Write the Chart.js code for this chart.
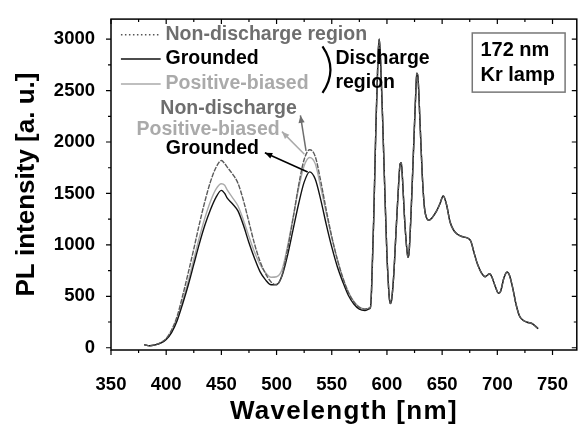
<!DOCTYPE html>
<html>
<head>
<meta charset="utf-8">
<script src="https://cdn.jsdelivr.net/npm/chart.js@4.4.0/dist/chart.umd.js"></script>
<style>
  body { margin: 0; background: #fff; }
</style>
</head>
<body>
<canvas id="chart" width="584" height="431"></canvas>
<script>
// wavelengths where the three spectra differ (nm)
const wavelengthsHead = [380, 385, 390, 395, 400, 405, 410, 415, 420, 425, 430, 435, 440, 445, 450, 453,
  455, 460, 465, 470, 475, 480, 485, 490, 495, 500, 505, 510, 515, 520, 525, 530, 535, 540, 545, 550,
  555, 560, 565, 570, 575, 580, 584];
const nonDischargeHead = [30, 20, 28, 50, 90, 175, 310, 510, 730, 960, 1200, 1420, 1610, 1750, 1820, 1790,
  1760, 1690, 1600, 1430, 1220, 1010, 840, 720, 640, 612, 710, 960, 1260, 1580, 1830, 1925, 1860, 1620, 1340, 1080,
  860, 680, 540, 445, 392, 375, 385];
const groundedHead = [30, 20, 28, 45, 80, 150, 265, 430, 610, 810, 1010, 1190, 1340, 1460, 1530, 1500,
  1460, 1400, 1330, 1190, 1020, 870, 740, 660, 612, 615, 700, 900, 1150, 1400, 1610, 1710, 1640, 1440, 1200, 980,
  790, 640, 510, 425, 375, 362, 378];
const positiveBiasedHead = [30, 20, 28, 47, 85, 160, 285, 460, 650, 860, 1070, 1260, 1420, 1540, 1595, 1580,
  1540, 1460, 1380, 1240, 1080, 930, 810, 730, 685, 690, 760, 990, 1270, 1550, 1770, 1850, 1790, 1560, 1310, 1070,
  860, 680, 545, 450, 395, 376, 385];

// above ~585 nm the three spectra overlap
const wavelengthsTail = [585, 586, 588, 590, 592, 593, 594, 596, 598, 600, 601, 602, 603, 604, 606, 608, 610,
  612, 613, 614, 616, 618, 619, 620, 622, 624, 626, 627, 628, 630, 632, 634, 636, 638, 641, 645, 648, 651, 654,
  657, 660, 663, 667, 670, 673, 676, 679, 682, 686, 689, 691, 693, 695, 698, 701, 703, 706, 709, 711, 714, 717,
  720, 723, 727, 732, 735, 737];
const sharedTail = [390, 550, 1250, 2150, 2850, 3000, 2850, 2250, 1550, 900, 680, 500, 430, 450, 680, 1080, 1480,
  1790, 1800, 1660, 1250, 960, 880, 920, 1350, 1900, 2450, 2670, 2640, 2180, 1680, 1360, 1260, 1240, 1265, 1330,
  1400, 1475, 1390, 1230, 1150, 1110, 1085, 1075, 1066, 1035, 920, 814, 720, 690, 705, 720, 690, 600, 530, 550,
  680, 736, 705, 578, 420, 311, 270, 248, 233, 205, 186];

const xTickValues = [350, 400, 450, 500, 550, 600, 650, 700, 750];
const yTickValues = [0, 500, 1000, 1500, 2000, 2500, 3000];

const FONT = "'Liberation Sans', Arial, sans-serif";

function points(head) {
  const wl = wavelengthsHead.concat(wavelengthsTail);
  const vals = head.concat(sharedTail);
  return wl.map((w, i) => ({x: w, y: vals[i]}));
}

const decorations = {
  id: 'decorations',
  beforeDraw(chart) {
    const sx = chart.scales.x;
    if (!sx._spaced) {
      const orig = sx.drawTitle.bind(sx);
      sx.drawTitle = function () {
        this.ctx.save();
        this.ctx.letterSpacing = '1.3px';
        orig();
        this.ctx.restore();
      };
      sx._spaced = true;
    }
  },
  afterDraw(chart) {
    const {ctx, chartArea: a, scales: {x, y}} = chart;
    const X = v => x.getPixelForValue(v);
    const Y = v => y.getPixelForValue(v);
    ctx.save();

    // tick marks: outward on bottom/left, inward on top/right
    ctx.strokeStyle = '#000';
    ctx.lineWidth = 1.2;
    const xMinor = xTickValues.map(v => v + 25).filter(v => v <= x.max);
    const yMinor = yTickValues.map(v => v + 250).filter(v => v <= y.max);
    ctx.beginPath();
    xTickValues.forEach(v => {
      ctx.moveTo(X(v), a.bottom); ctx.lineTo(X(v), a.bottom + 5);
      ctx.moveTo(X(v), a.top); ctx.lineTo(X(v), a.top + 5);
    });
    xMinor.forEach(v => {
      ctx.moveTo(X(v), a.bottom); ctx.lineTo(X(v), a.bottom + 3);
      ctx.moveTo(X(v), a.top); ctx.lineTo(X(v), a.top + 3);
    });
    yTickValues.forEach(v => {
      ctx.moveTo(a.left, Y(v)); ctx.lineTo(a.left - 5, Y(v));
      ctx.moveTo(a.right, Y(v)); ctx.lineTo(a.right - 5, Y(v));
    });
    yMinor.forEach(v => {
      ctx.moveTo(a.left, Y(v)); ctx.lineTo(a.left - 3, Y(v));
      ctx.moveTo(a.right, Y(v)); ctx.lineTo(a.right - 3, Y(v));
    });
    ctx.stroke();

    ctx.lineWidth = 1.5;
    ctx.strokeRect(a.left, a.top, a.right - a.left, a.bottom - a.top);

    // legend, top left
    ctx.font = 'bold 19.5px ' + FONT;
    ctx.textBaseline = 'middle';
    ctx.textAlign = 'left';
    const rows = [
      {v: 3044, line: '#555', dash: [1.5, 2.5], text: 'Non-discharge region', color: '#6e6e6e'},
      {v: 2808, line: '#111', dash: [], text: 'Grounded', color: '#000'},
      {v: 2563, line: '#aaa', dash: [], text: 'Positive-biased', color: '#aaa'}
    ];
    rows.forEach(r => {
      ctx.beginPath();
      ctx.setLineDash(r.dash);
      ctx.strokeStyle = r.line;
      ctx.lineWidth = 1.5;
      ctx.moveTo(X(359), Y(r.v));
      ctx.lineTo(X(395), Y(r.v));
      ctx.stroke();
      ctx.setLineDash([]);
      ctx.fillStyle = r.color;
      ctx.fillText(r.text, X(399.4), Y(r.v));
    });

    // bracket + "Discharge region"
    ctx.beginPath();
    ctx.strokeStyle = '#000';
    ctx.lineWidth = 2.2;
    ctx.moveTo(X(541.6), Y(2931));
    ctx.quadraticCurveTo(X(556), Y(2705), X(541.6), Y(2478));
    ctx.stroke();
    ctx.fillStyle = '#000';
    ctx.fillText('Discharge', X(553.3), Y(2808));
    ctx.fillText('region', X(553.3), Y(2573));

    // lamp box
    ctx.strokeStyle = '#777';
    ctx.lineWidth = 1.5;
    ctx.strokeRect(X(677.3), Y(3060), X(761.4) - X(677.3), Y(2485) - Y(3060));
    ctx.font = 'bold 20px ' + FONT;
    ctx.fillStyle = '#000';
    ctx.fillText('172 nm', X(684.7), Y(2887));
    ctx.fillText('Kr lamp', X(684.7), Y(2644));

    // peak labels with arrows
    ctx.font = 'bold 19.5px ' + FONT;
    ctx.textAlign = 'center';
    const notes = [
      {text: 'Non-discharge', color: '#6e6e6e', tx: 456.5, ty: 2321, from: [526.7, 1915], to: [521.6, 2258]},
      {text: 'Positive-biased', color: '#aaa', tx: 438, ty: 2120, from: [525.2, 1881], to: [504.9, 2101]},
      {text: 'Grounded', color: '#000', tx: 441.8, ty: 1931, from: [528.2, 1708], to: [489.4, 1896]}
    ];
    notes.forEach(n => {
      ctx.fillStyle = n.color;
      ctx.fillText(n.text, X(n.tx), Y(n.ty));
      const x0 = X(n.from[0]), y0 = Y(n.from[1]), x1 = X(n.to[0]), y1 = Y(n.to[1]);
      ctx.strokeStyle = n.color;
      ctx.lineWidth = 1.5;
      ctx.beginPath();
      ctx.moveTo(x0, y0);
      ctx.lineTo(x1, y1);
      ctx.stroke();
      const ang = Math.atan2(y1 - y0, x1 - x0);
      ctx.beginPath();
      ctx.moveTo(x1, y1);
      ctx.lineTo(x1 - 8 * Math.cos(ang - 0.4), y1 - 8 * Math.sin(ang - 0.4));
      ctx.lineTo(x1 - 8 * Math.cos(ang + 0.4), y1 - 8 * Math.sin(ang + 0.4));
      ctx.closePath();
      ctx.fill();
    });

    ctx.restore();
  }
};

new Chart(document.getElementById('chart'), {
  type: 'line',
  data: {
    datasets: [
      {label: 'Non-discharge region', data: points(nonDischargeHead), borderColor: '#5a5a5a',
        borderDash: [5, 1.2], borderWidth: 1.4},
      {label: 'Grounded', data: points(groundedHead), borderColor: '#111', borderWidth: 1.4},
      {label: 'Positive-biased', data: points(positiveBiasedHead), borderColor: '#aaa', borderWidth: 1.4}
    ]
  },
  options: {
    responsive: false,
    animation: false,
    parsing: false,
    elements: {
      point: {radius: 0},
      line: {cubicInterpolationMode: 'monotone', fill: false}
    },
    layout: {padding: {top: 9, right: 1, left: 0, bottom: 0}},
    plugins: {legend: {display: false}, tooltip: {enabled: false}},
    scales: {
      x: {
        type: 'linear',
        min: 350,
        max: 772,
        grid: {display: false},
        border: {display: false},
        afterBuildTicks: s => { s.ticks = xTickValues.map(v => ({value: v})); },
        afterFit: s => { s.height = 81; },
        ticks: {color: '#000', padding: 16, maxRotation: 0, callback: v => String(v),
          font: {family: FONT, size: 18.5, weight: 'bold'}},
        title: {display: true, text: 'Wavelength [nm]', color: '#000', padding: {top: 0, bottom: 4},
          font: {family: FONT, size: 26, weight: 'bold'}}
      },
      y: {
        type: 'linear',
        min: -22,
        max: 3195,
        grid: {display: false},
        border: {display: false},
        afterBuildTicks: s => { s.ticks = yTickValues.map(v => ({value: v})); },
        afterFit: s => { s.width = 111; },
        ticks: {color: '#000', padding: 8, callback: v => String(v),
          font: {family: FONT, size: 18.5, weight: 'bold'}},
        title: {display: true, text: 'PL intensity [a. u.]', color: '#000', padding: {top: 11, bottom: 0},
          font: {family: FONT, size: 26, weight: 'bold'}}
      }
    }
  },
  plugins: [decorations]
});
</script>
</body>
</html>
